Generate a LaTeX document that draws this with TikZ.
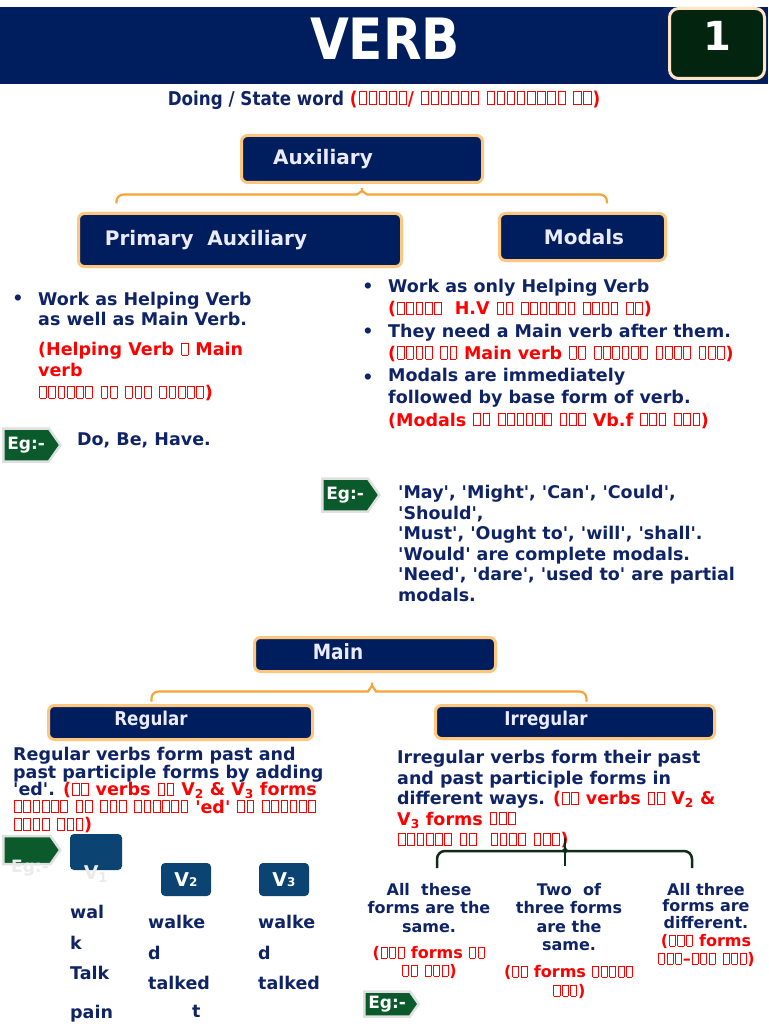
\documentclass[tikz,border=0pt]{standalone}
\usepackage{fontspec}
\setmainfont{DejaVu Sans}[Ligatures=TeXOff]
\newfontfamily\condfont{DejaVu Sans}[FakeStretch=0.88,Ligatures=TeXOff]
\usetikzlibrary{shapes.symbols}

\definecolor{navy}{HTML}{0F2466}
\definecolor{boxnavy}{HTML}{001E5E}
\definecolor{peach}{HTML}{FFC67E}
\definecolor{brace}{HTML}{F6A43A}
\definecolor{egreen}{HTML}{0B5A2B}
\definecolor{vblue}{HTML}{0B4373}
\definecolor{darkgreen}{HTML}{0F2C1B}
\definecolor{numgreen}{HTML}{03250F}

% missing-glyph boxes as they show in the picture
\newcommand\tofu{\kern.05em\vrule height .74em depth 0pt width .05em\rlap{\vrule height .74em depth -.69em width .33em}\rlap{\vrule height .05em depth 0pt width .33em}\kern.33em\vrule height .74em depth 0pt width .05em\kern.05em}
\newcommand\tofus[1]{\foreach\k in {1,...,#1}{\tofu}}
\newcommand\rd[1]{{\color{red}#1}}

\begin{document}
\begin{tikzpicture}[x=1pt,y=-1pt,
  navybox/.style={draw=peach,line width=3pt,fill=boxnavy,rounded corners=6pt,inner sep=0},
  boxlabel/.style={text=white!92!blue,font=\fontsize{20}{24}\selectfont\bfseries,inner sep=0},
  condlabel/.style={text=white!92!blue,font=\condfont\fontsize{21}{24}\selectfont\bfseries,inner sep=0},
  body/.style={text=navy,font=\fontsize{17.5}{20}\selectfont\bfseries,inner sep=0,anchor=north west,align=left},
  bul/.style={text=navy,font=\fontsize{17.5}{20}\selectfont\bfseries,inner sep=0},
  egtag/.style={shape=signal,signal to=east,signal pointer angle=110,fill=egreen,draw=black!12,line width=2.5pt,text=white,font=\fontsize{17}{20}\selectfont\bfseries,minimum width=57pt,minimum height=33pt,inner xsep=4pt,anchor=west},
  vbox/.style={fill=vblue,rounded corners=4pt,minimum width=50pt,minimum height=33pt,inner sep=0,text=white,font=\fontsize{19}{20}\selectfont\bfseries},
  bracket/.style={draw=brace,line width=2.2pt,rounded corners=7pt},
  colword/.style={body,font=\fontsize{17.5}{30.5}\selectfont\bfseries},
  formtxt/.style={text=navy,font=\fontsize{16}{18.5}\selectfont\bfseries,inner sep=0,anchor=north,align=center}]

\useasboundingbox (0,0) rectangle (768,1024);
\fill[white] (0,0) rectangle (768,1024);

% header
\fill[boxnavy] (0,7) rectangle (768,84);
\node[font=\condfont\fontsize{57}{60}\selectfont\bfseries,text=white] (title) at (385,39) {VERB};
\node[draw=peach!45,fill=numgreen,line width=3pt,rounded corners=9pt,minimum width=95pt,minimum height=70pt] (num) at (717,43.5) {};
\node[text=white,font=\fontsize{40}{40}\selectfont\bfseries] (one) at (717,36) {1};
\node[font=\condfont\fontsize{19}{20}\selectfont\bfseries,text=navy,inner sep=0] (def) at (384,100) {Doing / State word \rd{(\tofus{5}/ \tofus{6} \tofus{8} \tofus{2})}};

% auxiliary
\node[navybox,minimum width=241pt,minimum height=47pt] (Aux) at (362,159) {};
\node[boxlabel] (AuxT) at (323,159) {Auxiliary};
\node[navybox,minimum width=323pt,minimum height=53pt] (Pri) at (240,240) {};
\node[boxlabel] (PriT) at (206,240) {Primary\ \ Auxiliary};
\node[navybox,minimum width=166pt,minimum height=47pt] (Mod) at (582.5,237) {};
\node[boxlabel] (ModT) at (584,237) {Modals};
\coordinate (atip) at (Aux.south);
\draw[bracket] ([xshift=39.5pt,yshift=8.5pt]Pri.north west) |- ([xshift=-12pt,yshift=-10.5pt]atip)
  .. controls +(7,0) and +(0,7) .. (atip)
  .. controls +(0,7) and +(-7,0) .. ([xshift=12pt,yshift=-10.5pt]atip)
  -| ([xshift=24.5pt,yshift=8.5pt]Mod.north);

% primary auxiliary
\node[bul] (b1) at (18,300) {•};
\node[body] (L1) at (38,292) {Work as Helping Verb\\as well as Main Verb.};
\node[body,text=red,font=\fontsize{17.5}{21.5}\selectfont\bfseries] (L2) at (38,342) {(Helping Verb \tofus{1} Main\\verb\\\tofus{6} \tofus{2} \tofus{3} \tofus{5})};
\node[egtag] (eg1) at (2,445) {Eg:-};
\node[body] (L3) at (77,433) {Do, Be, Have.};

% modals
\node[bul] (b2) at (368,288) {•};
\node[bul] (b3) at (368,333) {•};
\node[bul] (b4) at (368,379) {•};
\node[body,font=\fontsize{17.5}{22.3}\selectfont\bfseries] (R1) at (388,279) {Work as only Helping Verb\\
  \rd{(\tofus{5}\ \ H.V \tofus{2} \tofus{6} \tofus{4} \tofus{2})}\\
  They need a Main verb after them.\\
  \rd{(\tofus{4} \tofus{2} Main verb \tofus{2} \tofus{6} \tofus{4} \tofus{3})}\\
  Modals are immediately\\
  followed by base form of verb.\\
  \rd{(Modals \tofus{2} \tofus{6} \tofus{3} Vb.f \tofus{3} \tofus{3})}};
\node[egtag] (eg2) at (321,495) {Eg:-};
\node[body,font=\fontsize{17.5}{20.6}\selectfont\bfseries] (M1) at (398,485) {'May', 'Might', 'Can', 'Could',\\
  'Should',\\
  'Must', 'Ought to', 'will', 'shall'.\\
  'Would' are complete modals.\\
  'Need', 'dare', 'used to' are partial\\
  modals.};

% main
\node[navybox,minimum width=241pt,minimum height=34pt] (Main) at (375,654.5) {};
\node[condlabel] (MainT) at (338,652) {Main};
\node[navybox,minimum width=264pt,minimum height=34pt] (Reg) at (180.5,722.5) {};
\node[condlabel,font=\condfont\fontsize{19}{24}\selectfont\bfseries] (RegT) at (151,720) {Regular};
\node[navybox,minimum width=279pt,minimum height=33pt] (Irr) at (575,722) {};
\node[condlabel,font=\condfont\fontsize{19}{24}\selectfont\bfseries] (IrrT) at (546,720) {Irregular};
\coordinate (mtip) at ([xshift=-3pt,yshift=-5.5pt]Main.south);
\draw[bracket] ([xshift=104.5pt,yshift=2.5pt]Reg.north west) |- ([xshift=-11pt,yshift=-13pt]mtip)
  .. controls +(7,0) and +(0,7) .. (mtip)
  .. controls +(0,7) and +(-7,0) .. ([xshift=11pt,yshift=-13pt]mtip)
  -| ([xshift=152.5pt,yshift=2.5pt]Irr.north west);

% regular
\node[body,font=\fontsize{17.5}{17.6}\selectfont\bfseries] (RegP) at (13,747) {Regular verbs form past and\\
  past participle forms by adding\\
  'ed'. \rd{(\tofus{2} verbs \tofus{2} V\textsubscript{2} \& V\textsubscript{3} forms}\\
  \rd{\tofus{6} \tofus{2} \tofus{3} \tofus{6} 'ed' \tofus{2} \tofus{6}}\\
  \rd{\tofus{4} \tofus{3})}};
\node[egtag,minimum height=28pt] (eg3) at (2,850) {};
\node[text=black!8,font=\fontsize{17}{20}\selectfont\bfseries] (eg3t) at (30,868) {Eg:-};
\node[vbox,minimum width=52pt,minimum height=36pt] (V1) at (96,852) {};
\node[text=black!8,font=\fontsize{19}{20}\selectfont\bfseries] (V1T) at (96,874) {V\textsubscript{1}};
\node[vbox] (V2) at (186,879.5) {V{\fontsize{12}{12}\selectfont 2}};
\node[vbox] (V3) at (284,879.5) {V{\fontsize{12}{12}\selectfont 3}};
\node[colword] (C1) at (70,905) {wal\\k\\Talk\\[8.5pt]pain};
\node[colword] (C2) at (148,915) {walke\\d\\talked};
\node[colword] (C2b) at (192,1005) {t};
\node[colword] (C3) at (258,915) {walke\\d\\talked};

% irregular
\node[body,font=\fontsize{17.5}{20.6}\selectfont\bfseries] (IrrP) at (397,750) {Irregular verbs form their past\\
  and past participle forms in\\
  different ways. \rd{(\tofus{2} verbs \tofus{2} V\textsubscript{2} \&}\\
  \rd{V\textsubscript{3} forms \tofus{3}}\\
  \rd{\tofus{6} \tofus{2}\ \ \tofus{4} \tofus{3})}};
\coordinate (gtip) at (565,838);
\coordinate (gl) at (437,868);
\coordinate (gr) at (692,868);
\draw[darkgreen,line width=2.5pt,rounded corners=8pt] (gl) |- (555,851)
  .. controls (562,851) and (565,849) .. (565,843)
  .. controls (565,849) and (568,851) .. (575,851) -| (gr);
\draw[darkgreen,line width=2pt] (gtip) -- (565,866);
\node[formtxt] (F1) at (429,883) {All\ \ these\\forms are the\\same.};
\node[formtxt,text=red,font=\fontsize{16}{18}\selectfont\bfseries] (F1h) at (429,946) {(\tofus{3} forms \tofus{2}\\\tofus{2} \tofus{3})};
\node[formtxt] (F2) at (569,883) {Two\ \ of\\three forms\\are the\\same.};
\node[formtxt,text=red,font=\fontsize{16}{19}\selectfont\bfseries] (F2h) at (569,965) {(\tofus{2} forms \tofus{5}\\\tofus{3})};
\node[formtxt,font=\fontsize{16}{16.5}\selectfont\bfseries] (F3) at (706,883) {All three\\forms are\\different.};
\node[formtxt,text=red,font=\fontsize{16}{18}\selectfont\bfseries] (F3h) at (706,934) {(\tofus{3} forms\\\tofus{3}–\tofus{3} \tofus{3})};
\node[egtag,minimum height=25pt,minimum width=54pt] (eg4) at (363,1004) {Eg:-};
\end{tikzpicture}
\end{document}
